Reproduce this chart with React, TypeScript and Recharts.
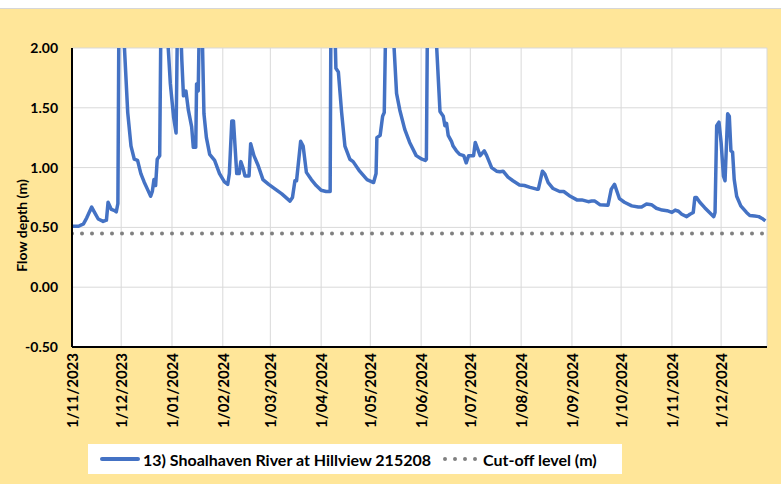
import React from "react";
import { LineChart, Line, XAxis, YAxis, CartesianGrid, Label } from "recharts";

// days since 1/11/2023
const days = [
  0, 4, 7, 9, 12, 14, 16, 19, 21, 22, 24, 26, 27, 28, 29, 30, 31, 32, 34, 36, 38, 40, 42, 44, 46, 48, 49, 50, 51, 52,
  53.5, 54.5, 56, 58.5, 60, 62, 63.5, 64.5, 66, 67, 68, 69.5, 71, 73, 74, 75.5, 76, 77, 78, 79.5, 80.5, 82, 84, 87,
  90, 93, 95, 96, 97.5, 98.5, 100.5, 102, 103, 104.5, 105.5, 108, 109, 111, 113.5, 116.5, 120, 124, 128, 133, 134.5,
  136, 137, 139.5, 141, 143, 146, 149, 152, 155, 157.5, 158, 159, 160.5, 161, 162.5, 164.5, 166.5, 169.5, 171.5,
  175.5, 180, 184, 185.5, 186, 188, 189.5, 190.5, 191.5, 193, 195, 196.5, 198, 200, 203, 206, 210, 213.5, 215.5,
  216.2, 217, 219, 221, 222.5, 224.5, 226.5, 227.5, 228.5, 229.5, 231.5, 232.5, 234.5, 236.5, 239, 240.5, 242, 245,
  246, 249, 251.5, 253, 256, 259, 261, 263, 266, 269, 273, 276, 279.5, 283.5, 284.5, 287, 288.5, 290.5, 293.5, 297.5,
  300, 304, 308, 311, 315, 317, 319, 322, 327, 329, 331, 334, 337, 341.5, 345.5, 347.5, 350.5, 353.5, 356.5, 360,
  363, 366, 368, 370, 372, 375, 377, 379, 380, 381, 383, 386, 390, 391.5, 392.3, 393.3, 394.7, 396, 397.4, 398.4,
  400, 401, 402, 403, 404, 405.5, 408, 411.5, 413.5, 416.5, 419, 421, 423,
];

const depths = [
  0.51, 0.51, 0.53, 0.58, 0.67, 0.62, 0.57, 0.55, 0.56, 0.71, 0.65, 0.64, 0.63, 0.7, 3.2, 3.0, 2.4, 2.0, 1.46, 1.18,
  1.07, 1.06, 0.95, 0.88, 0.82, 0.76, 0.8, 0.9, 0.85, 1.07, 1.1, 2.6, 3.5, 2.05, 1.7, 1.42, 1.29, 2.4, 2.3, 1.9, 1.6,
  1.64, 1.48, 1.34, 1.17, 1.17, 1.7, 1.64, 2.5, 2.1, 1.45, 1.25, 1.11, 1.06, 0.95, 0.88, 0.86, 0.95, 1.39, 1.39, 0.95,
  0.95, 1.05, 0.99, 0.93, 0.93, 1.2, 1.1, 1.02, 0.9, 0.86, 0.82, 0.78, 0.72, 0.75, 0.89, 0.89, 1.22, 1.18, 0.96, 0.9,
  0.85, 0.81, 0.8, 0.8, 2.4, 2.7, 2.1, 1.83, 1.8, 1.46, 1.18, 1.07, 1.05, 0.97, 0.9, 0.875, 0.95, 1.25, 1.27, 1.43,
  1.46, 2.3, 3.0, 2.5, 2.0, 1.62, 1.48, 1.32, 1.21, 1.1, 1.07, 1.06, 1.07, 2.5, 3.4, 2.8, 2.0, 1.47, 1.43, 1.35, 1.37,
  1.27, 1.22, 1.18, 1.14, 1.11, 1.1, 1.04, 1.1, 1.1, 1.21, 1.1, 1.14, 1.1, 1.0, 0.97, 0.965, 0.97, 0.92, 0.89, 0.855,
  0.85, 0.835, 0.82, 0.82, 0.97, 0.945, 0.875, 0.825, 0.8, 0.8, 0.76, 0.73, 0.73, 0.715, 0.72, 0.72, 0.69, 0.685,
  0.82, 0.86, 0.74, 0.71, 0.68, 0.67, 0.67, 0.695, 0.69, 0.66, 0.645, 0.64, 0.625, 0.645, 0.635, 0.61, 0.59, 0.61,
  0.625, 0.75, 0.75, 0.71, 0.665, 0.61, 0.59, 0.625, 1.35, 1.38, 1.21, 0.93, 0.89, 1.45, 1.43, 1.14, 1.13, 0.9, 0.76,
  0.68, 0.625, 0.6, 0.595, 0.59, 0.575, 0.555,
];

const cutoffLevel = 0.45;
const lastDay = 424;

const monthTicks = [0, 30, 61, 92, 121, 152, 182, 213, 243, 274, 305, 335, 366, 396];
const monthLabels = [
  "1/11/2023", "1/12/2023", "1/01/2024", "1/02/2024", "1/03/2024", "1/04/2024", "1/05/2024",
  "1/06/2024", "1/07/2024", "1/08/2024", "1/09/2024", "1/10/2024", "1/11/2024", "1/12/2024",
];
const depthTicks = [-0.5, 0, 0.5, 1, 1.5, 2];

const seriesName = "13) Shoalhaven River at Hillview 215208";
const cutoffName = "Cut-off level (m)";

const flowData = days.map((d, i) => ({ day: d, depth: depths[i] }));
const cutoffData = [
  { day: 0, cutoff: cutoffLevel },
  { day: lastDay, cutoff: cutoffLevel },
];

const FONT = "Lato, 'Noto Sans', sans-serif";
const BLUE = "#4472C4";
const GREY = "#808080";

const DateTick = (props: any) => {
  const { x, y, payload } = props;
  const idx = monthTicks.indexOf(payload.value);
  return (
    <text
      x={x}
      y={y}
      transform={`rotate(-90 ${x} ${y})`}
      textAnchor="end"
      dominantBaseline="central"
      fontFamily={FONT}
      fontWeight={700}
      fontSize={15}
      fill="#000"
    >
      {idx >= 0 ? monthLabels[idx] : ""}
    </text>
  );
};

export default function App() {
  return (
    <div
      style={{
        position: "absolute",
        left: 0,
        top: 0,
        width: 781,
        height: 484,
        background: "#fff",
        fontFamily: FONT,
      }}
    >
      <div
        style={{
          position: "absolute",
          left: 0,
          top: 8,
          width: 781,
          height: 476,
          background: "#FFE699",
          borderTop: "1px solid #d6d6d6",
          boxSizing: "border-box",
        }}
      >
        <LineChart
          width={781}
          height={475}
          margin={{ top: 39, right: 14, left: 0, bottom: 0 }}
          style={{ position: "absolute", left: 0, top: 0 }}
        >
          <CartesianGrid stroke="#d9d9d9" fill="#fff" />
          <XAxis
            dataKey="day"
            type="number"
            domain={[0, lastDay]}
            ticks={monthTicks}
            interval={0}
            height={137}
            tickLine={false}
            tickSize={4}
            tickMargin={2}
            axisLine={{ stroke: "#000", strokeWidth: 2 }}
            tick={<DateTick />}
            allowDataOverflow
          />
          <YAxis
            type="number"
            domain={[-0.5, 2]}
            ticks={depthTicks}
            interval={0}
            width={72}
            allowDataOverflow
            tickLine={false}
            tickSize={6}
            tickMargin={8}
            axisLine={{ stroke: "#000", strokeWidth: 2 }}
            tickFormatter={(v: number) => v.toFixed(2)}
            tick={{ fill: "#000", fontSize: 14, fontWeight: 700, fontFamily: FONT }}
          >
            <Label
              content={(p: any) => {
                const vb = p.viewBox || { x: 0, y: 0, width: 0, height: 0 };
                const cx = vb.x + 21;
                const cy = vb.y + vb.height / 2 + 28;
                return (
                  <text
                    x={cx}
                    y={cy}
                    transform={`rotate(-90 ${cx} ${cy})`}
                    textAnchor="middle"
                    dominantBaseline="central"
                    fontFamily={FONT}
                    fontWeight={700}
                    fontSize={14}
                    fill="#000"
                  >
                    Flow depth (m)
                  </text>
                );
              }}
            />
          </YAxis>
          <Line
            data={cutoffData}
            dataKey="cutoff"
            name={cutoffName}
            stroke={GREY}
            strokeWidth={4}
            strokeDasharray="0 10"
            strokeLinecap="round"
            dot={false}
            activeDot={false}
            isAnimationActive={false}
          />
          <Line
            data={flowData}
            dataKey="depth"
            name={seriesName}
            type="linear"
            stroke={BLUE}
            strokeWidth={3.5}
            strokeLinejoin="round"
            dot={false}
            activeDot={false}
            isAnimationActive={false}
          />
        </LineChart>
        <div
          style={{
            position: "absolute",
            left: 88,
            top: 435,
            width: 534,
            height: 30,
            background: "#fff",
            display: "flex",
            alignItems: "center",
            fontWeight: 700,
            fontSize: 16,
            color: "#000",
            whiteSpace: "nowrap",
          }}
        >
          <svg width={50} height={30} style={{ marginLeft: 10 }}>
            <line x1={4} y1={15} x2={40} y2={15} stroke={BLUE} strokeWidth={4} strokeLinecap="round" />
          </svg>
          <span style={{ marginLeft: -5 }}>{seriesName}</span>
          <svg width={52} height={30} style={{ marginLeft: 10 }}>
            <line
              x1={4}
              y1={15}
              x2={40}
              y2={15}
              stroke={GREY}
              strokeWidth={4}
              strokeDasharray="0 10"
              strokeLinecap="round"
            />
          </svg>
          <span style={{ marginLeft: -10 }}>{cutoffName}</span>
        </div>
      </div>
    </div>
  );
}
